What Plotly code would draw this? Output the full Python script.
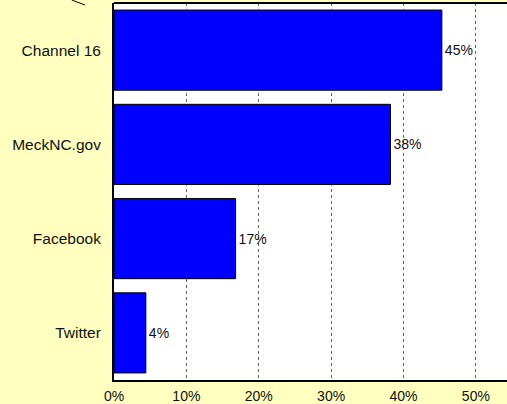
import plotly.graph_objects as go

categories = ["Twitter", "Facebook", "MeckNC.gov", "Channel 16"]
values = [4.4, 16.8, 38.2, 45.3]
labels = ["4%", "17%", "38%", "45%"]
tick_vals = [0, 10, 20, 30, 40, 50]
tick_text = ["0%", "10%", "20%", "30%", "40%", "50%"]

FONT = "Arial, Liberation Sans, sans-serif"

fig = go.Figure(go.Bar(
    x=values, y=categories, orientation="h",
    marker=dict(color="#0000FF", line=dict(color="#000000", width=1)),
    text=labels, textposition="outside", cliponaxis=False,
    textfont=dict(family=FONT, size=14, color="#111111"),
    width=0.85,
))

fig.update_layout(
    width=507, height=404,
    margin=dict(l=114, r=0, t=3, b=24),
    paper_bgcolor="#FFFFC0", plot_bgcolor="#FFFFFF",
    font=dict(family=FONT, size=14, color="#111111"),
    showlegend=False,
    xaxis=dict(range=[0, 54.3], tickvals=tick_vals, ticktext=tick_text,
               showgrid=True, gridcolor="#666666", griddash="dot", gridwidth=1,
               showline=True, linecolor="#000000", linewidth=2, zeroline=False,
               ticks="", tickfont=dict(size=14), ticklabelstandoff=2,
               fixedrange=True),
    yaxis=dict(showline=True, linecolor="#000000", linewidth=2, ticks="",
               showgrid=False, ticklabelstandoff=8, tickfont=dict(size=15.5),
               fixedrange=True),
    shapes=[
        dict(type="line", xref="paper", yref="paper", x0=0, x1=1, y0=1, y1=1,
             line=dict(color="#000000", width=2)),
        dict(type="line", xref="paper", yref="paper", x0=-0.1076, y0=1.008,
             x1=-0.0738, y1=0.9947, line=dict(color="#000000", width=1)),
    ],
)

fig.write_html("out.html", config={"displayModeBar": False},
               post_script="document.body.style.margin='0';document.body.style.overflow='hidden';")
